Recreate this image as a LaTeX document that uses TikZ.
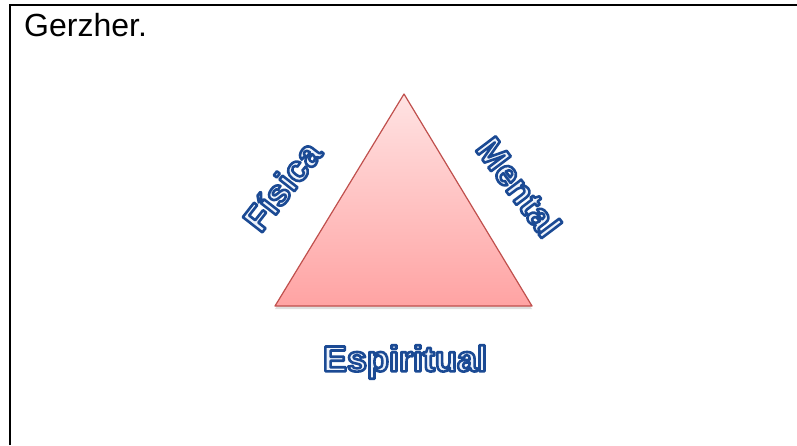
\documentclass[tikz,border=0pt]{standalone}
\usepackage{fontspec}
\setmainfont{Liberation Sans}
\usetikzlibrary{shadows}
\definecolor{artfill}{HTML}{EEF3FB}
\definecolor{tribord}{HTML}{C0504D}
\definecolor{tritop}{HTML}{FFE3E3}
\definecolor{tribot}{HTML}{FFA3A3}
% texto con contorno (modo de render 2: relleno y trazo)
\newcommand{\arttext}[1]{{\color{artfill}\special{pdf:literal direct q 2 Tr 2.6 w 1 j 0.106 0.290 0.580 RG}\bfseries #1\special{pdf:literal direct Q}}}
\tikzset{
  wordart/.style={font=\fontsize{36}{36}\selectfont, inner sep=0pt},
  frameline/.style={line width=2pt, black}
}
\begin{document}
\begin{tikzpicture}[x=1pt, y=-1pt]
		\useasboundingbox (0,0) rectangle (797,445);
		% Marco
		\coordinate (c0) at (10,5);
		\coordinate (c1) at (797,5);
		\coordinate (c2) at (10,445);
		\draw[frameline] (c2) -- (c0) -- (c1);
		\node[anchor=base west, font=\fontsize{32}{32}\selectfont, inner sep=0pt] (titulo) at (24,36){Gerzher.};

		% Triangulo
		\coordinate (apex) at (404,94);
		\coordinate (left) at (275,306);
		\coordinate (right) at (532,306);
		\draw[tribord, line width=1.2pt, line join=round, top color=tritop, bottom color=tribot,
			drop shadow={opacity=0.25, shadow xshift=0pt, shadow yshift=-3pt}]
			(apex) -- (right) -- (left) -- cycle;

		% Etiquetas
		\node[wordart, rotate=52] (fisica) at (282,186){\arttext{Física}};
		\node[wordart, rotate=-53] (mental) at (519,187){\arttext{Mental}};
		\node[wordart] (espiritual) at (405,362){\arttext{Espiritual}};
	\end{tikzpicture}
\end{document}
